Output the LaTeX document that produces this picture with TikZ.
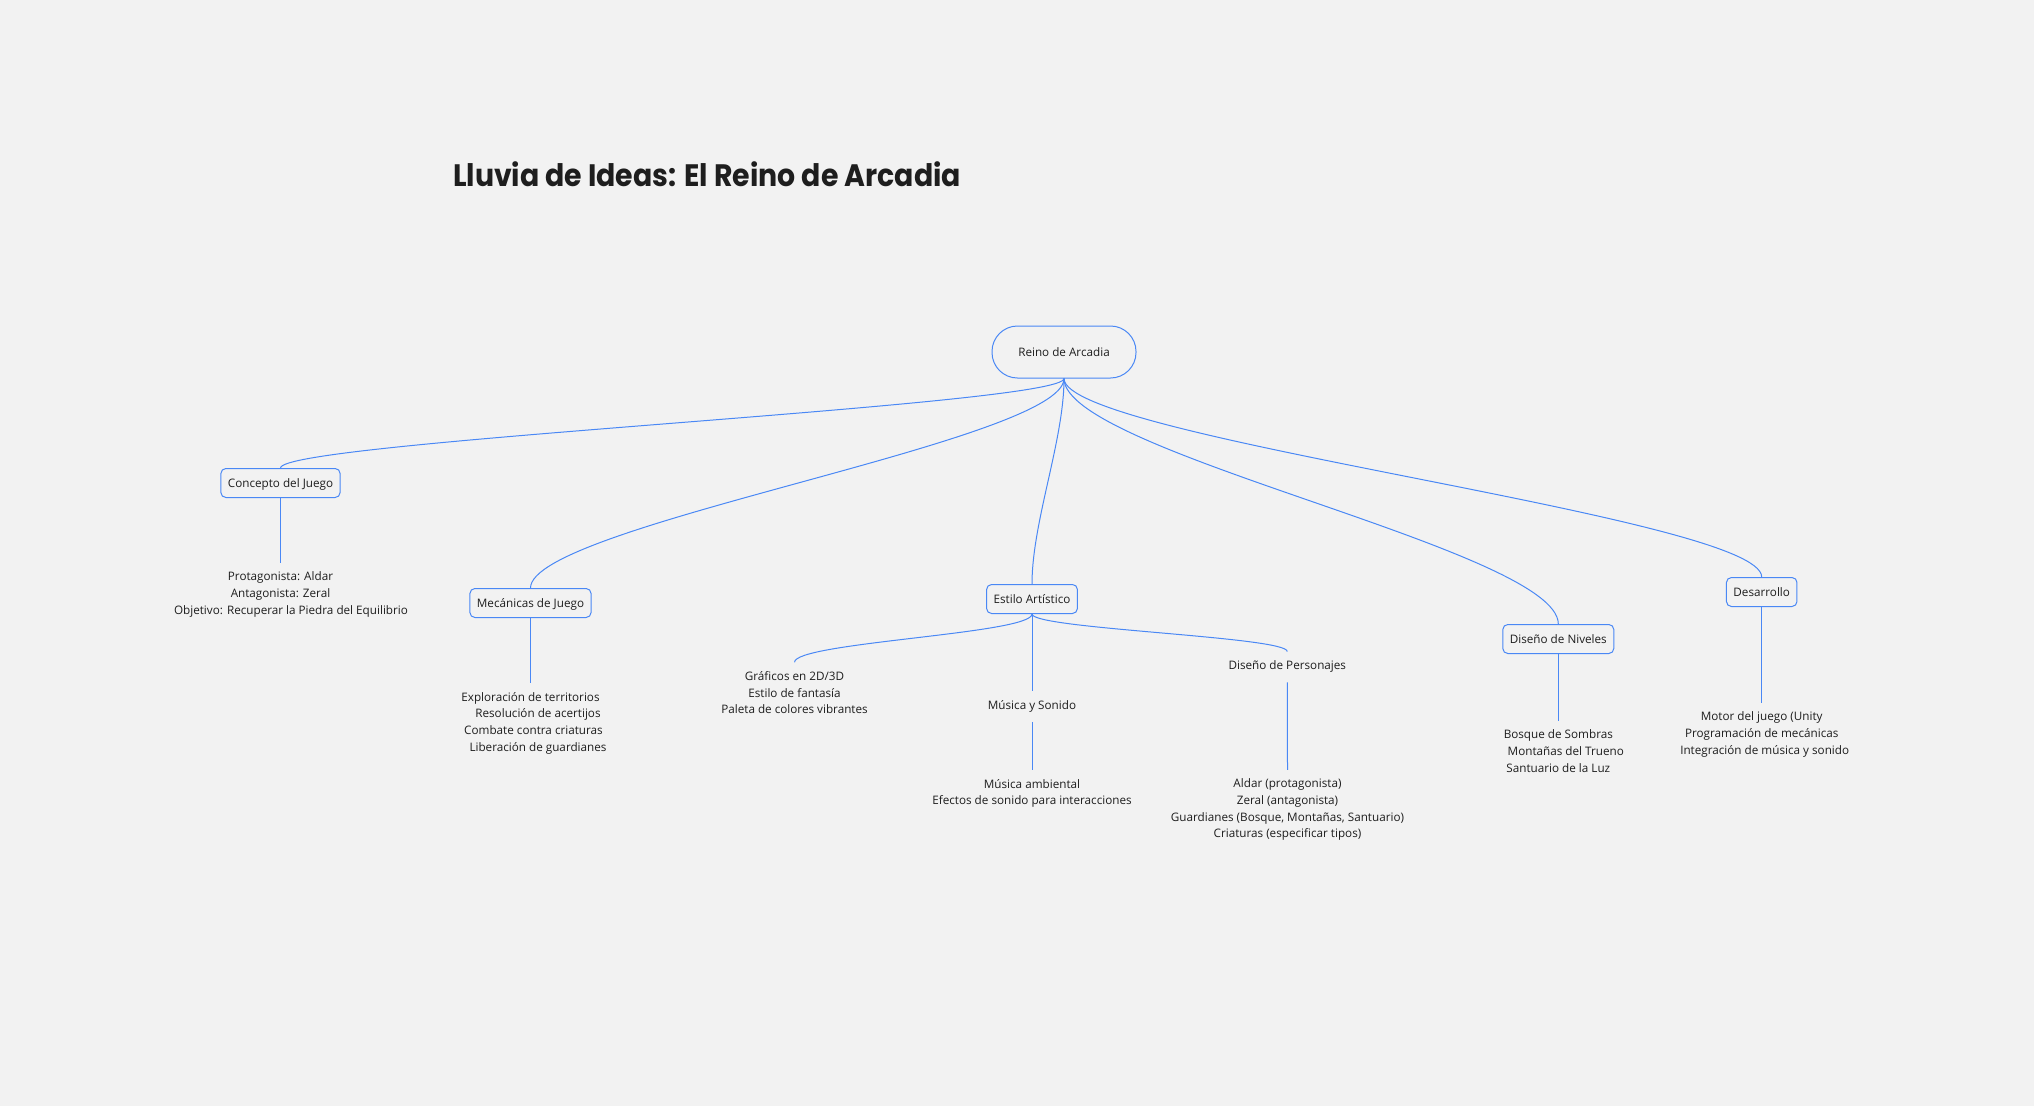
\documentclass[tikz,border=0pt]{standalone}
\usepackage{fontspec}
\setmainfont{Open Sans}
\newfontfamily\titlefont{Poppins}[FakeStretch=0.915]
\definecolor{bg}{HTML}{F2F2F2}
\definecolor{edge}{HTML}{4A88F5}
\definecolor{ink}{HTML}{1E1E1E}
\begin{document}
\begin{tikzpicture}[x=1pt,y=-1pt,
  every node/.style={text=ink},
  txt/.style={font=\fontsize{11.7}{16.6}\selectfont},
  topic/.style={txt, draw=edge, line width=1pt, rounded corners=5pt, fill=bg, inner xsep=7pt, inner ysep=0pt, minimum height=29pt, text height=8.6pt, text depth=0pt},
  block/.style={txt, align=center, inner xsep=0pt, inner ysep=9pt,
    execute at begin node={\rule{0pt}{9pt}},
    execute at end node={\rule[-3.5pt]{0pt}{3.5pt}}},
  conn/.style={draw=edge, line width=1pt},
]
\fill[bg] (0,0) rectangle (2034,1106);
\useasboundingbox (0,0) rectangle (2034,1106);

\node[anchor=base west, inner sep=0pt, font=\titlefont\fontsize{31}{36}\selectfont\bfseries] (title) at (453,186.5) {Lluvia de Ideas: El Reino de Arcadia};

\node[txt, draw=edge, line width=1pt, rounded corners=25.5pt, minimum width=144pt, minimum height=52pt, text height=8.6pt, text depth=0pt, fill=bg] (root) at (1064,352) {Reino de Arcadia};

\node[topic] (concepto) at (280.5,483) {Concepto del Juego};
\node[topic] (mecanicas) at (530.5,603) {Mecánicas de Juego};
\node[topic] (estilo) at (1032,599) {Estilo Artístico};
\node[topic] (niveles) at (1558.3,639) {Diseño de Niveles};
\node[topic] (desarrollo) at (1761.7,592) {Desarrollo};

\node[block] (cblk) at (280.5,594.7) {Protagonista: Aldar\\Antagonista: Zeral\\\hspace*{21pt}Objetivo: Recuperar la Piedra del Equilibrio};
\node[block] (mblk) at (530.5,723.5) {Exploración de territorios\\\hspace*{15pt}Resolución de acertijos\\\hspace*{6pt}Combate contra criaturas\\\hspace*{15pt}Liberación de guardianes};
\node[block] (gblk) at (794.5,694.3) {Gráficos en 2D/3D\\Estilo de fantasía\\Paleta de colores vibrantes};
\node[block] (msn) at (1032,706.3) {Música y Sonido};
\node[block] (ablk) at (1032,793.8) {Música ambiental\\Efectos de sonido para interacciones};
\node[block] (dp) at (1287.3,667) {Diseño de Personajes};
\node[block] (pblk) at (1287.5,810.1) {Aldar (protagonista)\\Zeral (antagonista)\\Guardianes (Bosque, Montañas, Santuario)\\Criaturas (especificar tipos)};
\node[block] (nblk) at (1558.3,752.7) {Bosque de Sombras\\\hspace*{15pt}Montañas del Trueno\\Santuario de la Luz};
\node[block] (dblk) at (1761.7,734.7) {Motor del juego (Unity\\Programación de mecánicas\\\hspace*{6pt}Integración de música y sonido};

\draw[conn] (root.south) .. controls +(0,27) and +(0,-27) .. (concepto.north);
\draw[conn] (root.south) .. controls +(0,63) and +(0,-63) .. (mecanicas.north);
\draw[conn] (root.south) .. controls +(0,62) and +(0,-62) .. (estilo.north);
\draw[conn] (root.south) .. controls +(0,74) and +(0,-74) .. (niveles.north);
\draw[conn] (root.south) .. controls +(0,60) and +(0,-60) .. (desarrollo.north);

\draw[conn] (concepto.south) -- (cblk.north);
\draw[conn] (mecanicas.south) -- (mecanicas.south |- mblk.north);
\draw[conn] (estilo.south) .. controls +(0,20) and +(0,-20) .. (gblk.north);
\draw[conn] (estilo.south) -- (msn.north);
\draw[conn] (estilo.south) .. controls +(0,15) and +(0,-15) .. (dp.north);
\draw[conn] (msn.south) -- (ablk.north);
\draw[conn] (dp.south) -- (pblk.north);
\draw[conn] (niveles.south) -- (nblk.north);
\draw[conn] (desarrollo.south) -- (dblk.north);
\end{tikzpicture}
\end{document}
